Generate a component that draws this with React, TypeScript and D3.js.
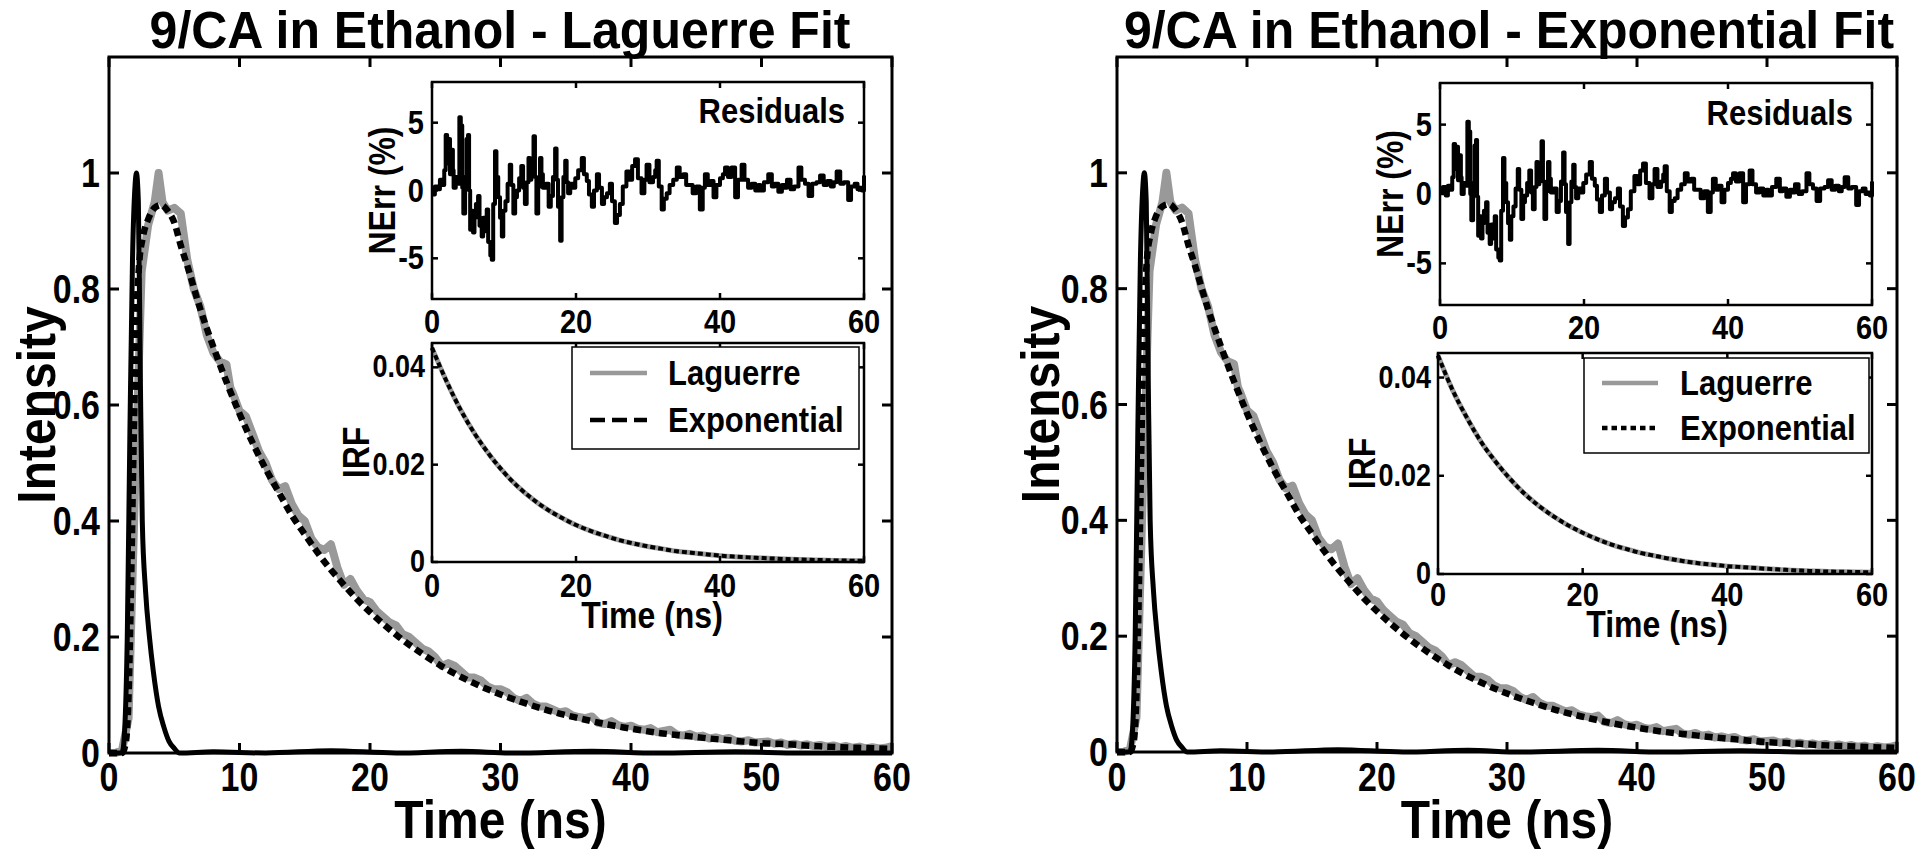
import React from 'react';
import * as d3 from 'd3';

const FONT = "'Liberation Sans', Arial, Helvetica, sans-serif";

// ---------- data ----------
const measuredTime = [0, 0.5, 1.0, 1.5, 2.0, 2.5, 3.0, 3.5, 3.8, 4.1, 4.5, 5.0, 5.5, 6.0, 6.5, 7.0, 7.5, 8.0, 8.5, 9.0, 9.3, 9.5, 10.0, 10.5, 11.0, 11.5, 12.0, 12.5, 13.0, 13.5, 14.0, 14.5, 15.0, 15.5, 16.0, 16.5, 17.0, 17.5, 18.0, 18.5, 19.0, 19.5, 20.0, 20.5, 21.0, 21.5, 22.0, 22.5, 23.0, 23.5, 24.0, 24.5, 25.0, 25.5, 26.0, 26.5, 27.0, 27.5, 28.0, 28.5, 29.0, 29.5, 30.0, 30.5, 31.0, 31.5, 32.0, 32.5, 33.0, 33.5, 34.0, 34.5, 35.0, 35.5, 36.0, 36.5, 37.0, 37.5, 38.0, 38.5, 39.0, 39.5, 40.0, 40.5, 41.0, 41.5, 42.0, 42.5, 43.0, 43.5, 44.0, 44.5, 45.0, 45.5, 46.0, 46.5, 47.0, 47.5, 48.0, 48.5, 49.0, 49.5, 50.0, 50.5, 51.0, 51.5, 52.0, 52.5, 53.0, 53.5, 54.0, 54.5, 55.0, 55.5, 56.0, 56.5, 57.0, 57.5, 58.0, 58.5, 59.0, 59.5, 60.0];
const measuredIntensity = [0, 0, 0.005, 0.06, 0.46, 0.83, 0.91, 0.95, 1.0, 0.95, 0.935, 0.94, 0.93, 0.85, 0.8, 0.77, 0.72, 0.69, 0.675, 0.67, 0.63, 0.62, 0.59, 0.58, 0.55, 0.52, 0.5, 0.47, 0.455, 0.46, 0.43, 0.41, 0.4, 0.37, 0.355, 0.35, 0.36, 0.32, 0.29, 0.3, 0.28, 0.265, 0.26, 0.245, 0.235, 0.225, 0.22, 0.205, 0.2, 0.19, 0.18, 0.175, 0.165, 0.15, 0.155, 0.15, 0.14, 0.13, 0.13, 0.125, 0.115, 0.11, 0.11, 0.105, 0.095, 0.09, 0.095, 0.085, 0.08, 0.08, 0.075, 0.07, 0.072, 0.065, 0.062, 0.06, 0.063, 0.052, 0.05, 0.055, 0.048, 0.045, 0.047, 0.042, 0.04, 0.043, 0.036, 0.038, 0.04, 0.032, 0.03, 0.033, 0.028, 0.03, 0.025, 0.027, 0.024, 0.026, 0.021, 0.02, 0.022, 0.018, 0.019, 0.02, 0.016, 0.018, 0.014, 0.016, 0.013, 0.015, 0.012, 0.014, 0.011, 0.013, 0.01, 0.012, 0.009, 0.011, 0.008, 0.01, 0.008, 0.009, 0.012];

const irfTime = [0, 1.0, 1.2, 1.4, 1.6, 1.8, 2.0, 2.1, 2.25, 2.4, 2.55, 2.8, 3.1, 3.4, 3.8, 4.2, 4.6, 5.0, 5.4, 8, 12, 17, 22, 27, 31, 37, 42, 48, 53, 60];
const irfIntensity = [0, 0, 0.04, 0.2, 0.55, 0.85, 0.98, 1.0, 0.95, 0.65, 0.4, 0.28, 0.2, 0.14, 0.08, 0.045, 0.02, 0.008, 0, 0.002, 0, 0.004, 0, 0.003, 0, 0.003, 0, 0.002, 0, 0];

const fitTime = [0, 1.0, 1.3, 1.5, 1.7, 1.9, 2.1, 2.3, 2.6, 3.0, 3.5, 4.0, 4.5, 5.0, 5.5, 6, 7, 8, 9, 10, 11, 12, 13, 14, 15, 16, 17, 18, 19, 20, 22, 24, 26, 28, 30, 32, 34, 36, 38, 40, 42, 44, 46, 48, 50, 52, 54, 56, 58, 60];
const fitLaguerre = [0, 0, 0.02, 0.1, 0.3, 0.55, 0.75, 0.84, 0.89, 0.92, 0.94, 0.945, 0.935, 0.915, 0.875, 0.84, 0.765, 0.7, 0.64, 0.585, 0.535, 0.49, 0.45, 0.41, 0.377, 0.345, 0.316, 0.29, 0.265, 0.243, 0.204, 0.171, 0.143, 0.12, 0.101, 0.085, 0.071, 0.06, 0.05, 0.042, 0.035, 0.03, 0.025, 0.021, 0.017, 0.015, 0.012, 0.01, 0.0085, 0.007];
const fitExponential = [0, 0, 0.02, 0.1, 0.3, 0.56, 0.76, 0.85, 0.895, 0.925, 0.942, 0.946, 0.936, 0.915, 0.875, 0.84, 0.765, 0.7, 0.64, 0.585, 0.535, 0.49, 0.45, 0.41, 0.377, 0.345, 0.316, 0.29, 0.265, 0.243, 0.204, 0.171, 0.143, 0.12, 0.101, 0.085, 0.071, 0.06, 0.05, 0.042, 0.035, 0.03, 0.025, 0.021, 0.017, 0.015, 0.012, 0.01, 0.0085, 0.007];

const residualTime = [0, 0.4, 0.8, 1.1, 1.4, 1.7, 1.9, 2.1, 2.3, 2.5, 2.7, 2.9, 3.0, 3.3, 3.6, 3.8, 4.0, 4.2, 4.35, 4.6, 4.8, 5.0, 5.15, 5.3, 5.5, 5.7, 5.9, 6.1, 6.4, 6.6, 6.9, 7.1, 7.3, 7.6, 7.8, 8.1, 8.3, 8.5, 8.75, 8.95, 9.2, 9.45, 9.7, 9.9, 10.2, 10.5, 10.8, 11.0, 11.3, 11.55, 11.8, 12.1, 12.4, 12.65, 12.9, 13.15, 13.4, 13.6, 13.8, 14.1, 14.3, 14.5, 14.75, 15.0, 15.2, 15.4, 15.8, 16.2, 16.5, 16.8, 17.1, 17.3, 17.5, 17.8, 18.0, 18.25, 18.5, 18.7, 18.9, 19.2, 19.6, 19.9, 20.3, 20.8, 21.1, 21.5, 21.8, 22.2, 22.5, 22.9, 23.2, 23.6, 23.9, 24.3, 24.7, 25.0, 25.4, 25.7, 26.1, 26.5, 27.0, 27.4, 27.8, 28.2, 28.6, 29.1, 29.5, 29.8, 30.2, 30.7, 31.0, 31.2, 31.5, 31.9, 32.2, 32.6, 33.0, 33.5, 34.0, 34.4, 34.9, 35.3, 35.8, 36.2, 36.7, 37.2, 37.6, 37.9, 38.3, 38.7, 39.1, 39.5, 40.0, 40.4, 40.7, 41.1, 41.6, 42.1, 42.5, 43.0, 43.4, 43.9, 44.4, 44.9, 45.3, 45.6, 46.1, 46.7, 47.2, 47.6, 48.1, 48.6, 49.0, 49.3, 49.8, 50.3, 50.9, 51.3, 51.8, 52.3, 52.8, 53.4, 53.9, 54.4, 54.9, 55.4, 55.8, 56.2, 56.7, 57.2, 57.8, 58.2, 58.7, 59.1, 59.4, 59.7, 60.0];
const residualLaguerre = [-0.3, 0.3, 0.1, 0.8, 0.4, 1.5, 4.1, 2.0, 3.8, 1.2, 3.0, 1.5, 0.2, 1.0, 0.5, 5.4, 4.8, 0.2, -1.7, 1.0, 3.8, 4.1, 0.0, -2.9, -1.5, -3.1, -2.0, -1.0, -0.4, -2.6, -3.4, -2.0, -3.0, -1.4, -3.8, -4.8, -5.1, -1.0, 2.9, 1.0, -0.5, -2.0, -3.4, -1.5, -0.8, 0.5, 1.9, 0.4, -1.7, -0.5, 0.0, 0.9, 1.8, 0.2, -1.0, 0.6, 2.4, 0.8, 1.5, 4.0, 1.0, -1.7, 0.3, 2.4, 1.2, 0.2, 0.5, -1.2, -0.4, 1.0, 3.1, 0.8, -1.2, -3.7, -0.5, 1.0, 2.2, 0.6, -0.2, 0.5, 0.2, 0.9, 1.5, 2.4, 1.2, 0.7, -0.3, -1.2, 0.0, 1.2, 0.2, -1.0, -0.5, -0.2, 0.5, -0.8, -2.4, -1.8, -1.0, 0.3, 1.4, 0.8, 1.8, 2.3, 0.9, -0.2, 0.8, 1.9, 0.6, 1.0, 1.5, 2.2, 0.3, -1.4, -0.6, -0.2, 0.4, 0.8, 1.7, 1.0, 1.2, 0.4, 0.4, -0.2, 0.3, -1.4, 0.2, 1.2, 0.4, 0.7, -0.5, 0.4, 0.9, 1.2, 1.7, 1.0, 1.7, -0.5, 0.8, 1.9, 0.8, 0.2, 0.5, 0.0, 0.4, 0.0, 0.6, 1.2, 0.3, 0.5, -0.1, 0.4, 0.2, 0.8, 0.1, 0.3, 1.7, 0.8, 0.5, -0.4, 0.5, 0.6, 1.1, 0.4, 0.7, 0.3, 0.6, 1.4, 0.5, 0.6, -0.7, 0.3, 0.5, 0.1, 0.2, 0.0, 1.1];
const residualExponential = [0.2, 0.5, -0.1, 0.6, 0.3, 1.2, 3.6, 1.8, 3.4, 1.0, 2.8, 1.2, 0.0, 0.8, 0.6, 5.2, 4.5, 0.0, -1.9, 0.8, 3.5, 3.9, -0.2, -3.0, -1.6, -3.2, -2.1, -1.2, -0.6, -2.8, -3.6, -2.2, -3.2, -1.6, -4.0, -4.6, -4.8, -1.2, 2.6, 0.8, -0.6, -2.1, -3.3, -1.6, -0.9, 0.4, 1.8, 0.3, -1.8, -0.6, -0.1, 0.8, 1.7, 0.1, -1.1, 0.5, 2.3, 0.7, 1.4, 3.8, 0.9, -1.8, 0.2, 2.3, 1.1, 0.1, 0.4, -1.3, -0.5, 0.9, 3.0, 0.7, -1.3, -3.6, -0.6, 0.9, 2.1, 0.5, -0.3, 0.4, 0.1, 0.8, 1.4, 2.3, 1.1, 0.6, -0.4, -1.3, -0.1, 1.1, 0.1, -1.1, -0.6, -0.3, 0.4, -0.9, -2.3, -1.7, -1.1, 0.2, 1.3, 0.7, 1.7, 2.2, 0.8, -0.3, 0.7, 1.8, 0.5, 0.9, 1.4, 2.0, 0.2, -1.3, -0.5, -0.3, 0.3, 0.7, 1.5, 0.9, 1.1, 0.3, 0.3, -0.3, 0.2, -1.3, 0.1, 1.1, 0.3, 0.6, -0.6, 0.3, 0.8, 1.1, 1.5, 0.9, 1.5, -0.6, 0.7, 1.7, 0.7, 0.1, 0.4, -0.1, 0.3, -0.1, 0.5, 1.1, 0.2, 0.4, -0.2, 0.3, 0.1, 0.7, 0.0, 0.2, 1.5, 0.7, 0.4, -0.5, 0.4, 0.5, 1.0, 0.3, 0.6, 0.2, 0.5, 1.2, 0.4, 0.5, -0.8, 0.2, 0.4, 0.0, 0.1, -0.1, 0.9];

const impulseTime = [0, 2, 4, 6, 8, 10, 12, 14, 16, 18, 20, 22, 24, 26, 28, 30, 32, 34, 36, 38, 40, 42, 44, 46, 48, 50, 52, 54, 56, 58, 60];
const impulseLaguerre = [0.044, 0.0372, 0.0312, 0.0262, 0.022, 0.0184, 0.0154, 0.0129, 0.0108, 0.0091, 0.0076, 0.0064, 0.0054, 0.0045, 0.0038, 0.0032, 0.0027, 0.0022, 0.0019, 0.0016, 0.0013, 0.0011, 0.00095, 0.0008, 0.00067, 0.00056, 0.00047, 0.0004, 0.00033, 0.00028, 0.00024];
const impulseExponential = [0.0445, 0.0375, 0.0318, 0.0268, 0.0228, 0.0193, 0.0163, 0.0138, 0.0117, 0.0099, 0.0084, 0.0071, 0.006, 0.0051, 0.0043, 0.0037, 0.0031, 0.0026, 0.0022, 0.0019, 0.0016, 0.0014, 0.0012, 0.001, 0.00085, 0.0007, 0.0006, 0.0005, 0.00045, 0.0004, 0.00035];

const mainXTicks = [0, 10, 20, 30, 40, 50, 60];
const mainYTicks = [0, 0.2, 0.4, 0.6, 0.8, 1];
const insetXTicks = [0, 20, 40, 60];
const residualYTicks = [-5, 0, 5];
const irfYTicks = [0, 0.02, 0.04];
const legendLabels = ['Laguerre', 'Exponential'];

// ---------- layout ----------
const leftLayout = {
  main: { x0: 109, x1: 892, y0: 57, y1: 753 },
  res: { x0: 432, x1: 864, y0: 82, y1: 299 },
  irf: { x0: 432, x1: 864, y0: 343, y1: 562 },
  legend: { x0: 572, x1: 859, y0: 347, y1: 449, lx0: 590, lx1: 647, tx: 668, r1: 373, r2: 420 },
  titleX: 500, ylabelX: 36, resLabelX: 382, irfLabelX: 356,
  resTickBase: 333, irfTickBase: 597, irfTimeBase: 628, irfTimeX: 652,
  residualsX: 845, residualsY: 123,
};
const rightLayout = {
  main: { x0: 1117, x1: 1897, y0: 57, y1: 752 },
  res: { x0: 1440, x1: 1872, y0: 83, y1: 305 },
  irf: { x0: 1438, x1: 1872, y0: 353, y1: 574 },
  legend: { x0: 1584, x1: 1869, y0: 358, y1: 453, lx0: 1602, lx1: 1658, tx: 1680, r1: 383, r2: 428 },
  titleX: 1509, ylabelX: 1040, resLabelX: 1390, irfLabelX: 1362,
  resTickBase: 339, irfTickBase: 606, irfTimeBase: 637, irfTimeX: 1657,
  residualsX: 1853, residualsY: 125,
};

type Scale = d3.ScaleLinear<number, number>;

// text stretched a little vertically, like the reference's tall glyphs
function T({ x, y, size, anchor = 'start', rotate = 0, sy = 1.13, dy, children }: any) {
  return (
    <text
      transform={`translate(${x},${y}) rotate(${rotate}) scale(1,${sy})`}
      x={0}
      y={0}
      dy={dy}
      textAnchor={anchor}
      fontSize={size}
      fontFamily={FONT}
      fontWeight={700}
      fill="#000"
    >
      {children}
    </text>
  );
}

function Frame({ x, y, xt, yt, len, sw }: { x: Scale; y: Scale; xt: number[]; yt: number[]; len: number; sw: number }) {
  const [x0, x1] = x.range();
  const [y1, y0] = y.range();
  return (
    <g stroke="#000" strokeWidth={sw} fill="none">
      {xt.map((t) => (
        <g key={'x' + t}>
          <line x1={x(t)} x2={x(t)} y1={y1} y2={y1 - len} />
          <line x1={x(t)} x2={x(t)} y1={y0} y2={y0 + len} />
        </g>
      ))}
      {yt.map((t) => (
        <g key={'y' + t}>
          <line x1={x0} x2={x0 + len} y1={y(t)} y2={y(t)} />
          <line x1={x1} x2={x1 - len} y1={y(t)} y2={y(t)} />
        </g>
      ))}
      <rect x={x0} y={y0} width={x1 - x0} height={y1 - y0} />
    </g>
  );
}

function pathOf(xs: number[], ys: number[], x: Scale, y: Scale, curve: d3.CurveFactory = d3.curveLinear) {
  const pts: [number, number][] = xs.map((t, i) => [t, ys[i]]);
  return d3.line<[number, number]>().x((d) => x(d[0])).y((d) => y(d[1])).curve(curve)(pts) || '';
}

function Panel({ L, title, fit, residual, impulse, legendDash }: any) {
  const { main, res, irf, legend } = L;
  const x = d3.scaleLinear().domain([0, 60]).range([main.x0, main.x1]);
  const y = d3.scaleLinear().domain([0, 1.2]).range([main.y1, main.y0]);
  const rx = d3.scaleLinear().domain([0, 60]).range([res.x0, res.x1]);
  const ry = d3.scaleLinear().domain([-8, 8]).range([res.y1, res.y0]);
  const ix = d3.scaleLinear().domain([0, 60]).range([irf.x0, irf.x1]);
  const iy = d3.scaleLinear().domain([0, 0.045]).range([irf.y1, irf.y0]);
  const cx = (main.x0 + main.x1) / 2;
  const cy = (main.y0 + main.y1) / 2;
  const fmt = (v: number) => String(v);
  return (
    <g>
      <T x={L.titleX} y={48} size={50} anchor="middle" sy={1.04}>{title}</T>
      {/* main plot */}
      <path d={pathOf(measuredTime, measuredIntensity, x, y)} fill="none" stroke="#999" strokeWidth={8} strokeLinejoin="round" />
      <path d={pathOf(irfTime, irfIntensity, x, y, d3.curveMonotoneX)} fill="none" stroke="#000" strokeWidth={5} strokeLinejoin="round" />
      <path d={pathOf(fitTime, fit, x, y, d3.curveMonotoneX)} fill="none" stroke="#000" strokeWidth={6.5} strokeDasharray="8 5" />
      <Frame x={x} y={y} xt={mainXTicks} yt={mainYTicks} len={10} sw={3} />
      {mainXTicks.map((t) => (
        <T key={'mx' + t} x={x(t)} y={791} size={34} anchor="middle" sy={1.18}>{fmt(t)}</T>
      ))}
      {mainYTicks.map((t) => (
        <T key={'my' + t} x={main.x0 - 9} y={y(t) + 14} size={34} anchor="end" sy={1.18}>{fmt(t)}</T>
      ))}
      <T x={cx} y={838} size={48} anchor="middle" sy={1.12}>Time (ns)</T>
      <T x={L.ylabelX} y={cy} size={48} anchor="middle" rotate={-90} dy="0.36em" sy={1.12}>Intensity</T>

      {/* residual inset */}
      <rect x={res.x0} y={res.y0} width={res.x1 - res.x0} height={res.y1 - res.y0} fill="#fff" />
      <path d={pathOf(residualTime, residual, rx, ry, d3.curveStepAfter)} fill="none" stroke="#000" strokeWidth={4} strokeLinejoin="round" />
      <Frame x={rx} y={ry} xt={insetXTicks} yt={residualYTicks} len={6} sw={2.5} />
      {insetXTicks.map((t) => (
        <T key={'rx' + t} x={rx(t)} y={L.resTickBase} size={29} anchor="middle">{fmt(t)}</T>
      ))}
      {residualYTicks.map((t) => (
        <T key={'ry' + t} x={res.x0 - 8} y={ry(t) + 11} size={29} anchor="end">{fmt(t)}</T>
      ))}
      <T x={L.residualsX} y={L.residualsY} size={31} anchor="end">Residuals</T>
      <T x={L.resLabelX} y={(res.y0 + res.y1) / 2} size={32} anchor="middle" rotate={-90} dy="0.36em">NErr (%)</T>

      {/* IRF inset */}
      <rect x={irf.x0} y={irf.y0} width={irf.x1 - irf.x0} height={irf.y1 - irf.y0} fill="#fff" />
      <path d={pathOf(impulseTime, impulse, ix, iy, d3.curveMonotoneX)} fill="none" stroke="#999" strokeWidth={5} />
      <path d={pathOf(impulseTime, impulse, ix, iy, d3.curveMonotoneX)} fill="none" stroke="#000" strokeWidth={4} strokeDasharray="5 3" />
      <Frame x={ix} y={iy} xt={insetXTicks} yt={irfYTicks} len={6} sw={2.5} />
      {insetXTicks.map((t) => (
        <T key={'ix' + t} x={ix(t)} y={L.irfTickBase} size={29} anchor="middle">{fmt(t)}</T>
      ))}
      {irfYTicks.map((t) => (
        <T key={'iy' + t} x={irf.x0 - 7} y={iy(t) + 10} size={27} anchor="end">{fmt(t)}</T>
      ))}
      <T x={L.irfTimeX} y={L.irfTimeBase} size={32} anchor="middle">Time (ns)</T>
      <T x={L.irfLabelX} y={(irf.y0 + irf.y1) / 2} size={32} anchor="middle" rotate={-90} dy="0.36em">IRF</T>

      {/* legend */}
      <rect x={legend.x0} y={legend.y0} width={legend.x1 - legend.x0} height={legend.y1 - legend.y0} fill="#fff" stroke="#000" strokeWidth={1.5} />
      <line x1={legend.lx0} x2={legend.lx1} y1={legend.r1} y2={legend.r1} stroke="#999" strokeWidth={4.5} />
      <line x1={legend.lx0} x2={legend.lx1} y1={legend.r2} y2={legend.r2} stroke="#000" strokeWidth={4.5} strokeDasharray={legendDash} />
      <T x={legend.tx} y={legend.r1 + 12} size={31}>{legendLabels[0]}</T>
      <T x={legend.tx} y={legend.r2 + 12} size={31}>{legendLabels[1]}</T>
    </g>
  );
}

export default function App() {
  return (
    <svg width={1920} height={852} viewBox="0 0 1920 852" style={{ position: 'absolute', left: 0, top: 0, background: '#fff' }}>
      <rect x={0} y={0} width={1920} height={852} fill="#fff" />
      <Panel L={leftLayout} title="9/CA in Ethanol - Laguerre Fit" fit={fitLaguerre} residual={residualLaguerre} impulse={impulseLaguerre} legendDash="15 7" />
      <Panel L={rightLayout} title="9/CA in Ethanol - Exponential Fit" fit={fitExponential} residual={residualExponential} impulse={impulseExponential} legendDash="5.5 4" />
    </svg>
  );
}
